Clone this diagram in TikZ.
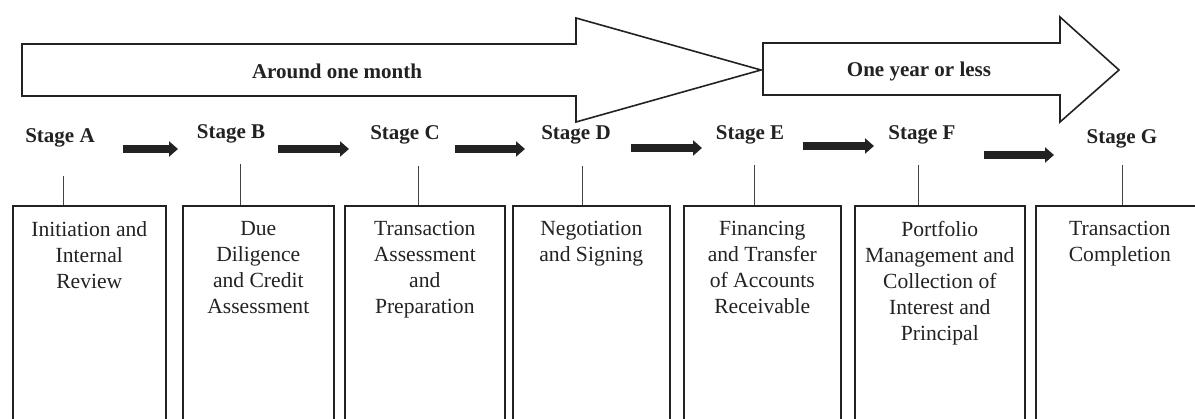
\documentclass[tikz,border=0pt]{standalone}
\usepackage{fontspec}
\setmainfont{Liberation Serif}
\usetikzlibrary{arrows.meta}
\definecolor{ink}{HTML}{222222}
\begin{document}
\begin{tikzpicture}[x=1pt,y=-1pt,
  stagelbl/.style={font=\fontsize{21}{25}\selectfont\bfseries, inner sep=0pt, anchor=base, text=ink},
  arrowlbl/.style={font=\fontsize{21}{25}\selectfont\bfseries, inner sep=0pt, anchor=base, text=ink},
  boxnode/.style={draw=ink, line width=1.6pt, minimum height=240pt, anchor=north west, inner sep=0pt},
  boxtxt/.style={font=\fontsize{21.6}{26}\selectfont, align=center, inner sep=0pt, anchor=north, text=ink},
  bigarrow/.style={draw=ink, line width=1.6pt, fill=white, line join=miter},
  flow/.style={draw=ink, line width=7.5pt, -{Triangle[length=9pt,width=15pt]}},
  tick/.style={draw=ink!85, line width=1pt}]
\useasboundingbox (0,0) rectangle (1195,419);
\clip (0,0) rectangle (1195,419);

% big timeline arrows
\draw[bigarrow] (22,44) -- (576,44) -- (576,18) -- (761,70) -- (576,122) -- (576,96) -- (22,96) -- cycle;
\draw[bigarrow] (763,43) -- (1060,43) -- (1060,17) -- (1119,70) -- (1060,122) -- (1060,95) -- (763,95) -- cycle;
\node[arrowlbl] (month) at (337,79) {Around one month};
\node[arrowlbl] (year) at (919,77) {One year or less};

% stage labels
\node[stagelbl] (sA) at (60,143) {Stage A};
\node[stagelbl] (sB) at (231,139) {Stage B};
\node[stagelbl] (sC) at (405,140) {Stage C};
\node[stagelbl] (sD) at (576,140) {Stage D};
\node[stagelbl] (sE) at (750,140) {Stage E};
\node[stagelbl] (sF) at (922,140) {Stage F};
\node[stagelbl] (sG) at (1122,144) {Stage G};

% flow arrows between stages
\coordinate (fAB1) at (123,149); \coordinate (fAB2) at (178,149);
\coordinate (fBC1) at (278,149); \coordinate (fBC2) at (349,149);
\coordinate (fCD1) at (455,149); \coordinate (fCD2) at (525,149);
\coordinate (fDE1) at (631,148); \coordinate (fDE2) at (702,148);
\coordinate (fEF1) at (803,146); \coordinate (fEF2) at (874,146);
\coordinate (fFG1) at (984,155); \coordinate (fFG2) at (1054,155);
\draw[flow] (fAB1) -- (fAB2);
\draw[flow] (fBC1) -- (fBC2);
\draw[flow] (fCD1) -- (fCD2);
\draw[flow] (fDE1) -- (fDE2);
\draw[flow] (fEF1) -- (fEF2);
\draw[flow] (fFG1) -- (fFG2);

% description boxes
\node[boxnode, minimum width=153pt] (bA) at (12,205) {};
\node[boxnode, minimum width=151pt] (bB) at (182,205) {};
\node[boxnode, minimum width=160pt] (bC) at (344,205) {};
\node[boxnode, minimum width=157pt] (bD) at (512,205) {};
\node[boxnode, minimum width=157pt] (bE) at (683,205) {};
\node[boxnode, minimum width=170pt] (bF) at (854,205) {};
\node[boxnode, minimum width=200pt] (bG) at (1035,205) {};

\node[boxtxt] (xA) at ([yshift=-16pt]bA.north) {Initiation and\\Internal\\Review};
\node[boxtxt] (xB) at ([yshift=-16pt]bB.north) {Due\\Diligence\\and Credit\\Assessment};
\node[boxtxt] (xC) at ([yshift=-16pt]bC.north) {Transaction\\Assessment\\and\\Preparation};
\node[boxtxt] (xD) at ([yshift=-16pt]bD.north) {Negotiation\\and Signing};
\node[boxtxt] (xE) at ([yshift=-16pt]bE.north) {Financing\\and Transfer\\of Accounts\\Receivable};
\node[boxtxt] (xF) at ([yshift=-16pt]bF.north) {Portfolio\\Management and\\Collection of\\Interest and\\Principal};
\node[boxtxt] (xG) at ([yshift=-16pt,xshift=-16pt]bG.north) {Transaction\\Completion};

% connectors from stage to box
\coordinate (tA) at (63,176);
\coordinate (tB) at (240,164);
\coordinate (tC) at (418,166);
\coordinate (tD) at (582,166);
\coordinate (tE) at (754,165);
\coordinate (tF) at (918,165);
\coordinate (tG) at (1122,165);
\draw[tick] (tA) -- (tA |- bA.north);
\draw[tick] (tB) -- (tB |- bB.north);
\draw[tick] (tC) -- (tC |- bC.north);
\draw[tick] (tD) -- (tD |- bD.north);
\draw[tick] (tE) -- (tE |- bE.north);
\draw[tick] (tF) -- (tF |- bF.north);
\draw[tick] (tG) -- (tG |- bG.north);
\end{tikzpicture}
\end{document}
